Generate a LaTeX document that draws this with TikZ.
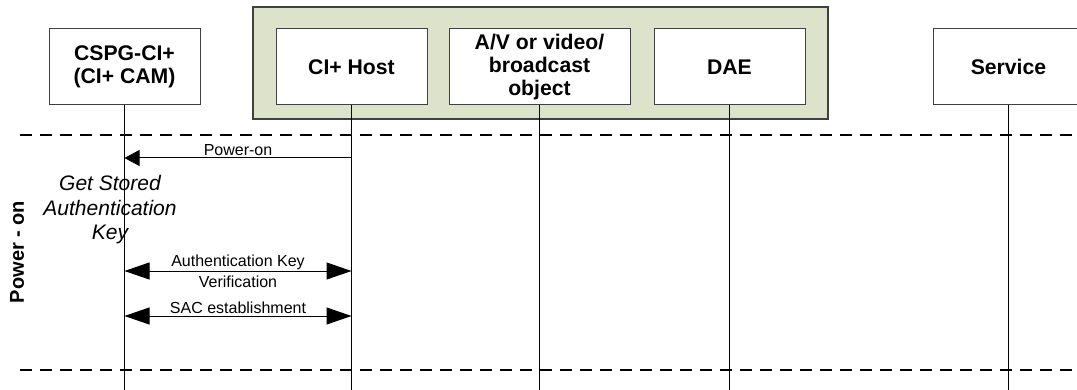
\documentclass[tikz,border=0pt]{standalone}
\usepackage{fontspec}
\setmainfont{Liberation Sans}
\usetikzlibrary{arrows.meta, calc, positioning}

\definecolor{groupgreen}{RGB}{221,226,202}

\begin{document}
\begin{tikzpicture}[
            x=0.5pt, y=-0.5pt,
            actor/.style={rectangle, draw=black!75, fill=white, line width=0.5pt,
            minimum width=75.5pt, minimum height=38pt, inner sep=1pt,
            font=\bfseries\fontsize{10.6}{11.3}\selectfont, align=center},
            group/.style={rectangle, draw=black!75, fill=groupgreen, line width=0.6pt},
            life/.style={draw, line width=0.75pt},
            phase/.style={draw, line width=0.75pt, dash pattern=on 6pt off 4pt},
            msg/.style={draw, line width=0.5pt, -{Triangle[length=7.5pt, width=8pt]}},
            bimsg/.style={draw, line width=0.5pt,
            {Triangle[length=12.5pt, width=8.5pt]}-{Triangle[length=12.5pt, width=8.5pt]}},
            lbl/.style={font=\fontsize{8}{9.5}\selectfont, inner sep=1pt, align=center},
            note/.style={font=\itshape\fontsize{10.5}{12.25}\selectfont, align=center}
        ]
\useasboundingbox (0,0) rectangle (1077,390);

% ----- Gruppe und Teilnehmer -----
            \draw[group] (253,7) rectangle (828,119);
            \node[actor] (cam) at (124.5,67) {CSPG-CI+\\(CI+ CAM)};
            \node[actor] (host) at (351.5,67) {CI+ Host};
            \node[actor, minimum width=90.5pt] (av) at (539.5,67) {A/V or video/\\broadcast\\object};
            \node[actor] (dae) at (729.5,67) {DAE};
            \node[actor] (service) at (1008.5,67) {Service};

% ----- Lebenslinien -----
            \foreach \p in {cam, host, av, dae, service} {
                \coordinate (\p-end) at (\p |- 0,390);
                \draw[life] (\p.south) -- (\p-end);
            }

% ----- Phasengrenzen -----
            \coordinate (top-l) at (20,135);
            \coordinate (top-r) at (1077,135);
            \coordinate (bot-l) at (20,370);
            \coordinate (bot-r) at (1077,370);
            \draw[phase] (top-l) -- (top-r);
            \draw[phase] (bot-l) -- (bot-r);
            \node[font=\bfseries\fontsize{10}{12}\selectfont, rotate=90] (phaselbl) at (17,252) {Power - on};

% ----- Nachrichten -----
            \coordinate (cam-1) at (cam |- 0,158);
            \coordinate (host-1) at (host |- 0,158);
            \coordinate (cam-2) at (cam |- 0,271);
            \coordinate (host-2) at (host |- 0,271);
            \coordinate (cam-3) at (cam |- 0,316);
            \coordinate (host-3) at (host |- 0,316);

            \draw[msg] (host-1) -- node[lbl, above] {Power-on} (cam-1);
            \node[note] (getkey) at (110,210) {Get Stored\\Authentication\\Key};
            \draw[bimsg] (cam-2) -- node[lbl] {Authentication Key\\[1pt]Verification} (host-2);
            \draw[bimsg] (cam-3) -- node[lbl, above] {SAC establishment} (host-3);

        \end{tikzpicture}
\end{document}
